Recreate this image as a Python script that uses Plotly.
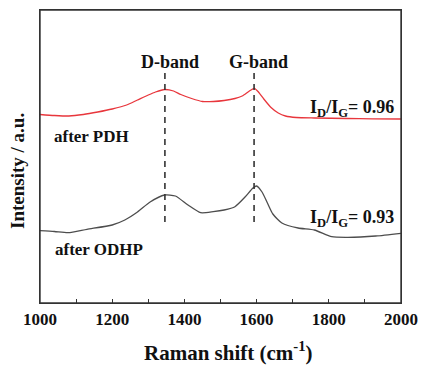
import plotly.graph_objects as go

# Raman shift (cm-1) and intensities (a.u., offset stacked)
pdh_shift = [1000, 1040, 1080, 1120, 1160, 1200, 1240, 1270, 1300, 1320, 1345, 1370, 1390, 1420,
             1450, 1480, 1510, 1540, 1560, 1580, 1594, 1605, 1620, 1640, 1660, 1680, 1710, 1760,
             1850, 1920, 2000]
pdh_int = [187.5, 186.5, 186, 187.5, 190, 193, 197, 202, 207, 210, 212.5, 211, 207.5, 203.5,
           200.5, 200.5, 201.5, 203.5, 206, 211, 213.7, 210, 203, 194.5, 189, 186, 184.5, 184,
           183.5, 183.2, 183]

odhp_shift = [1000, 1040, 1078, 1130, 1200, 1235, 1270, 1305, 1345, 1375, 1410, 1445, 1480, 1510,
              1540, 1568, 1590, 1600, 1615, 1630, 1645, 1670, 1715, 1760, 1808, 1853, 1930, 2000]
odhp_int = [71.3, 70.5, 69.3, 72.7, 77, 82, 90, 100, 107, 106, 97, 89.3, 90.3, 92,
            95.3, 105, 114, 116, 110, 99, 88, 79, 74, 72, 65.3, 64.7, 66, 68.7]

band_pos = [1346, 1593]
band_labels = ["D-band", "G-band"]
band_label_x = [1360, 1606]
ratio_labels = ["I<sub>D</sub>/I<sub>G</sub>= 0.96", "I<sub>D</sub>/I<sub>G</sub>= 0.93"]
sample_labels = ["after PDH", "after ODHP"]
x_tick_vals = [1000, 1100, 1200, 1300, 1400, 1500, 1600, 1700, 1800, 1900, 2000]
x_tick_text = ["1000", "", "1200", "", "1400", "", "1600", "", "1800", "", "2000"]

FONT = "Liberation Serif"
W, H = 421, 365
L, R, T, B = 40, 20, 10, 62
PW, PH = W - L - R, H - T - B


def px_x(p):
    return (p - L) / PW


def px_y(p):
    return (H - B - p) / PH


fig = go.Figure()
fig.add_trace(go.Scatter(x=pdh_shift, y=pdh_int, mode="lines",
                         line=dict(color="#e8363c", width=1.3, shape="spline", smoothing=0.6),
                         showlegend=False))
fig.add_trace(go.Scatter(x=odhp_shift, y=odhp_int, mode="lines",
                         line=dict(color="#4d4d4d", width=1.3, shape="spline", smoothing=0.6),
                         showlegend=False))

fig.add_shape(type="rect", xref="paper", yref="paper", x0=0, x1=1, y0=0, y1=1,
              line=dict(color="#333", width=1.4))
for xp in band_pos:
    fig.add_shape(type="line", xref="x", yref="y", x0=xp, x1=xp, y0=80, y1=230,
                  line=dict(color="#333333", width=1.6, dash="6px,5px"))

anns = []
for lbl, xl in zip(band_labels, band_label_x):
    anns.append(dict(x=xl, y=240, xref="x", yref="y", text="<b>" + lbl + "</b>",
                     showarrow=False, xanchor="center", yanchor="middle",
                     font=dict(family=FONT, size=18, color="#111")))
for lbl, yp in zip(ratio_labels, [108, 218]):
    anns.append(dict(x=px_x(308), y=px_y(yp), xref="paper", yref="paper",
                     text="<b>" + lbl + "</b>",
                     showarrow=False, xanchor="left", yanchor="middle",
                     font=dict(family=FONT, size=18, color="#111")))
for lbl, xp, yp in zip(sample_labels, [52, 53], [136, 249]):
    anns.append(dict(x=px_x(xp), y=px_y(yp), xref="paper", yref="paper",
                     text="<b>" + lbl + "</b>",
                     showarrow=False, xanchor="left", yanchor="middle",
                     font=dict(family=FONT, size=17, color="#111")))
anns.append(dict(x=px_x(17), y=px_y(171), xref="paper", yref="paper",
                 text="<b>Intensity / a.u.</b>", showarrow=False, textangle=-90,
                 xanchor="center", yanchor="middle",
                 font=dict(family=FONT, size=19, color="#111")))
anns.append(dict(x=px_x(228), y=px_y(351), xref="paper", yref="paper",
                 text="<b>Raman shift (cm<sup>-1</sup>)</b>", showarrow=False,
                 xanchor="center", yanchor="middle",
                 font=dict(family=FONT, size=21, color="#111")))

fig.update_layout(
    width=W, height=H,
    margin=dict(l=L, r=R, t=T, b=B),
    plot_bgcolor="white", paper_bgcolor="white",
    annotations=anns,
    xaxis=dict(range=[1000, 2000], tickmode="array", tickvals=x_tick_vals, ticktext=x_tick_text,
               ticks="inside", ticklen=4, tickwidth=1.2,
               tickcolor="#333", showline=True, linecolor="#333", linewidth=1.4, mirror=True,
               showgrid=False, zeroline=False, automargin=False,
               tickfont=dict(family=FONT, size=17, color="#111", weight="bold")),
    yaxis=dict(range=[-1, 292], showticklabels=False, ticks="", showline=True, linecolor="#333",
               linewidth=1.4, mirror=True, showgrid=False, zeroline=False, automargin=False),
)

fig.write_html("out.html")
